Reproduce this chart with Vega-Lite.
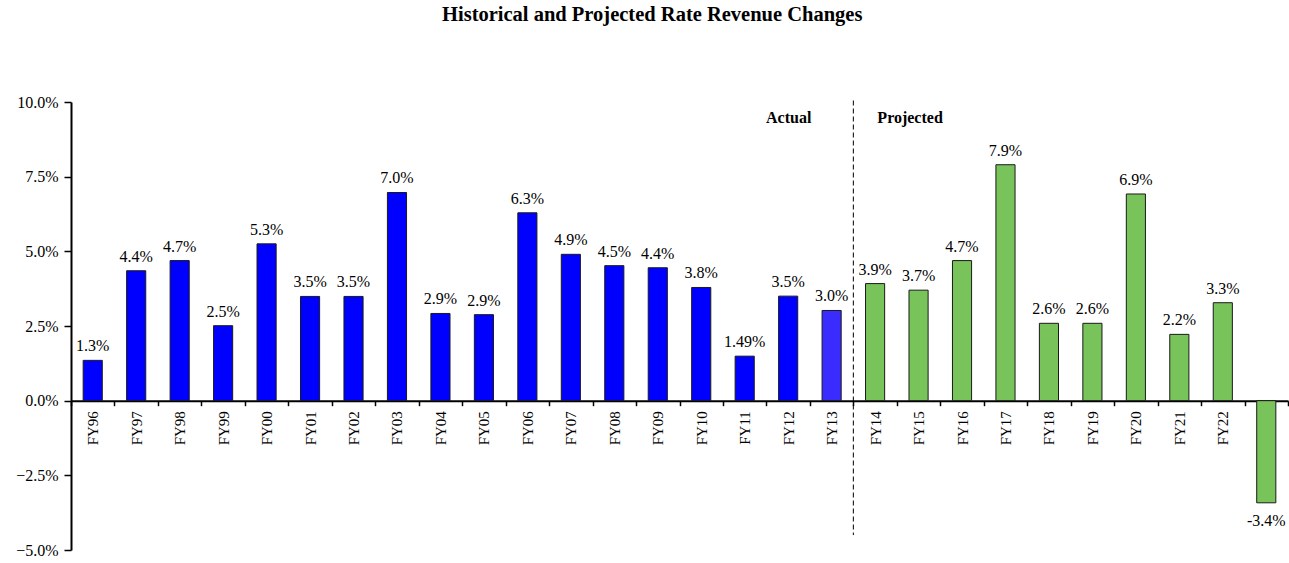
{
  "$schema": "https://vega.github.io/schema/vega-lite/v6.json",
  "width": 1217,
  "height": 448,
  "autosize": {"type": "none"},
  "padding": {"left": 71, "top": 102, "right": 1, "bottom": 13},
  "background": "white",
  "config": {"view": {"stroke": null}, "font": "Liberation Serif"},
  "title": {
    "text": "Historical and Projected Rate Revenue Changes",
    "font": "Liberation Serif",
    "fontSize": 20.5,
    "fontWeight": "bold",
    "color": "black",
    "anchor": "middle",
    "frame": "bounds",
    "offset": 69
  },
  "datasets": {
    "bars": [
      {"fy": "FY96", "value": 0.0135, "label": "1.3%", "grp": "hist"},
      {"fy": "FY97", "value": 0.0435, "label": "4.4%", "grp": "hist"},
      {"fy": "FY98", "value": 0.0469, "label": "4.7%", "grp": "hist"},
      {"fy": "FY99", "value": 0.0251, "label": "2.5%", "grp": "hist"},
      {"fy": "FY00", "value": 0.0525, "label": "5.3%", "grp": "hist"},
      {"fy": "FY01", "value": 0.0349, "label": "3.5%", "grp": "hist"},
      {"fy": "FY02", "value": 0.0349, "label": "3.5%", "grp": "hist"},
      {"fy": "FY03", "value": 0.0697, "label": "7.0%", "grp": "hist"},
      {"fy": "FY04", "value": 0.0292, "label": "2.9%", "grp": "hist"},
      {"fy": "FY05", "value": 0.0288, "label": "2.9%", "grp": "hist"},
      {"fy": "FY06", "value": 0.0629, "label": "6.3%", "grp": "hist"},
      {"fy": "FY07", "value": 0.049, "label": "4.9%", "grp": "hist"},
      {"fy": "FY08", "value": 0.0452, "label": "4.5%", "grp": "hist"},
      {"fy": "FY09", "value": 0.0445, "label": "4.4%", "grp": "hist"},
      {"fy": "FY10", "value": 0.0379, "label": "3.8%", "grp": "hist"},
      {"fy": "FY11", "value": 0.0149, "label": "1.49%", "grp": "hist"},
      {"fy": "FY12", "value": 0.035, "label": "3.5%", "grp": "hist"},
      {"fy": "FY13", "value": 0.0302, "label": "3.0%", "grp": "hist13"},
      {"fy": "FY14", "value": 0.0392, "label": "3.9%", "grp": "proj"},
      {"fy": "FY15", "value": 0.037, "label": "3.7%", "grp": "proj"},
      {"fy": "FY16", "value": 0.0469, "label": "4.7%", "grp": "proj"},
      {"fy": "FY17", "value": 0.079, "label": "7.9%", "grp": "proj"},
      {"fy": "FY18", "value": 0.0259, "label": "2.6%", "grp": "proj"},
      {"fy": "FY19", "value": 0.0259, "label": "2.6%", "grp": "proj"},
      {"fy": "FY20", "value": 0.0692, "label": "6.9%", "grp": "proj"},
      {"fy": "FY21", "value": 0.0222, "label": "2.2%", "grp": "proj"},
      {"fy": "FY22", "value": 0.0328, "label": "3.3%", "grp": "proj"},
      {"fy": "FY23", "value": -0.0342, "label": "-3.4%", "grp": "proj"}
    ],
    "divider": [
      {"fy": "FY13", "top": 0.1005, "bottom": -0.045}
    ],
    "notes": [
      {"fy": "FY13", "y": 0.0945, "text": "Actual", "side": "left"},
      {"fy": "FY13", "y": 0.0945, "text": "Projected", "side": "right"}
    ]
  },
  "layer": [
    {
      "data": {"name": "bars"},
      "mark": {"type": "bar", "width": {"band": 0.44}, "stroke": "#1a1a1a", "strokeWidth": 1},
      "encoding": {
        "x": {
          "field": "fy",
          "type": "nominal",
          "sort": null,
          "scale": {"paddingInner": 0, "paddingOuter": 0},
          "axis": {
            "title": null,
            "offset": -149.33,
            "domainColor": "black",
            "domainWidth": 2,
            "tickBand": "extent",
            "tickColor": "black",
            "tickSize": 5,
            "tickWidth": 1.5,
            "labelAngle": 270,
            "labelAlign": "right",
            "labelBaseline": "middle",
            "labelPadding": 5,
            "labelFont": "Liberation Serif",
            "labelFontSize": 15,
            "labelColor": "black"
          }
        },
        "y": {
          "field": "value",
          "type": "quantitative",
          "scale": {"domain": [-0.05, 0.1], "nice": false, "zero": false},
          "axis": {
            "title": null,
            "format": ".1%",
            "values": [-0.05, -0.025, 0, 0.025, 0.05, 0.075, 0.1],
            "grid": false,
            "domainColor": "black",
            "domainWidth": 2,
            "tickColor": "black",
            "tickSize": 7,
            "tickWidth": 1.5,
            "labelPadding": 6,
            "labelFont": "Liberation Serif",
            "labelFontSize": 16,
            "labelColor": "black"
          }
        },
        "y2": {"datum": 0},
        "color": {
          "field": "grp",
          "type": "nominal",
          "scale": {"domain": ["hist", "hist13", "proj"], "range": ["#0000FF", "#3A2BFF", "#78C35A"]},
          "legend": null
        }
      }
    },
    {
      "data": {"name": "bars"},
      "transform": [{"filter": "datum.value >= 0"}],
      "mark": {"type": "text", "baseline": "bottom", "dy": -6, "font": "Liberation Serif", "fontSize": 16, "color": "black"},
      "encoding": {
        "x": {"field": "fy", "type": "nominal", "sort": null},
        "y": {"field": "value", "type": "quantitative"},
        "text": {"field": "label"}
      }
    },
    {
      "data": {"name": "bars"},
      "transform": [{"filter": "datum.value < 0"}],
      "mark": {"type": "text", "baseline": "top", "dy": 10, "font": "Liberation Serif", "fontSize": 16, "color": "black"},
      "encoding": {
        "x": {"field": "fy", "type": "nominal", "sort": null},
        "y": {"field": "value", "type": "quantitative"},
        "text": {"field": "label"}
      }
    },
    {
      "data": {"name": "divider"},
      "mark": {"type": "rule", "color": "black", "strokeWidth": 1, "strokeDash": [5, 3]},
      "encoding": {
        "x": {"field": "fy", "type": "nominal", "sort": null, "bandPosition": 1},
        "y": {"field": "top", "type": "quantitative"},
        "y2": {"field": "bottom"}
      }
    },
    {
      "data": {"name": "notes"},
      "transform": [{"filter": "datum.side == 'left'"}],
      "mark": {"type": "text", "align": "right", "dx": -42, "baseline": "middle", "font": "Liberation Serif", "fontSize": 16, "fontWeight": "bold", "color": "black"},
      "encoding": {
        "x": {"field": "fy", "type": "nominal", "sort": null, "bandPosition": 1},
        "y": {"field": "y", "type": "quantitative"},
        "text": {"field": "text"}
      }
    },
    {
      "data": {"name": "notes"},
      "transform": [{"filter": "datum.side == 'right'"}],
      "mark": {"type": "text", "align": "left", "dx": 24, "baseline": "middle", "font": "Liberation Serif", "fontSize": 16, "fontWeight": "bold", "color": "black"},
      "encoding": {
        "x": {"field": "fy", "type": "nominal", "sort": null, "bandPosition": 1},
        "y": {"field": "y", "type": "quantitative"},
        "text": {"field": "text"}
      }
    }
  ]
}
